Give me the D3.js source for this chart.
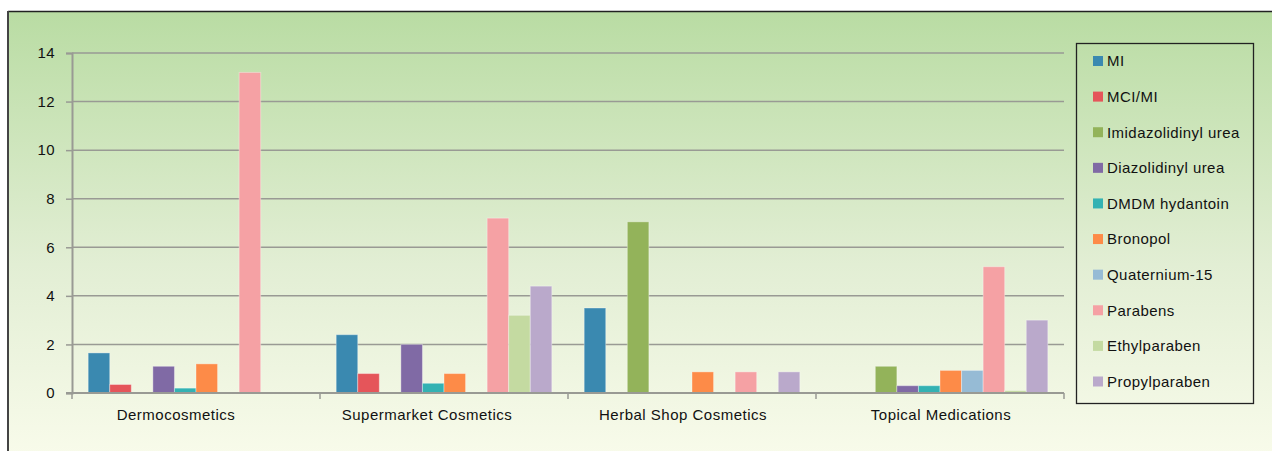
<!DOCTYPE html>
<html><head><meta charset="utf-8">
<script src="https://cdn.jsdelivr.net/npm/d3@7"></script>
<style>
html,body{margin:0;padding:0;background:#fff;}
svg{display:block;font-family:"Liberation Sans",Arial,sans-serif;}
</style></head>
<body><svg id="chart" width="1272" height="451"></svg>
<script>
const categories = ["Dermocosmetics","Supermarket Cosmetics","Herbal Shop Cosmetics","Topical Medications"];
const seriesNames = ["MI","MCI/MI","Imidazolidinyl urea","Diazolidinyl urea","DMDM hydantoin","Bronopol","Quaternium-15","Parabens","Ethylparaben","Propylparaben"];
const seriesColors = ["#3a89b0","#e5555a","#93b35a","#806aa5","#33b2b3","#fd8b48","#96bbd5","#f5a1a4","#c4daa1","#baa9cb"];
const MI = [1.65, 2.4, 3.5, 0];
const MCI_MI = [0.35, 0.8, 0, 0];
const Imidazolidinyl = [0, 0, 7.05, 1.1];
const Diazolidinyl = [1.1, 2.0, 0, 0.3];
const DMDM = [0.2, 0.4, 0, 0.3];
const Bronopol = [1.2, 0.8, 0.87, 0.93];
const Quaternium15 = [0, 0, 0, 0.93];
const Parabens = [13.2, 7.2, 0.87, 5.2];
const Ethylparaben = [0, 3.2, 0, 0.1];
const Propylparaben = [0, 4.4, 0.87, 3.0];
const yTicks = [0,2,4,6,8,10,12,14];

const seriesValues = [MI, MCI_MI, Imidazolidinyl, Diazolidinyl, DMDM, Bronopol, Quaternium15, Parabens, Ethylparaben, Propylparaben];

// layout: small horizontal shifts of category labels, as in the original figure
const labelShift = [-20, -17, -9, 1];

const svg = d3.select("#chart");
const defs = svg.append("defs");
const grad = defs.append("linearGradient").attr("id","bg").attr("x1",0).attr("y1",0).attr("x2",0).attr("y2",1);
grad.append("stop").attr("offset","0%").attr("stop-color","#b9dca3");
grad.append("stop").attr("offset","55%").attr("stop-color","#e2eed4");
grad.append("stop").attr("offset","100%").attr("stop-color","#fafcec");

svg.append("rect").attr("x",8).attr("y",11).attr("width",1272).attr("height",460).attr("fill","url(#bg)");
svg.append("line").attr("x1",8).attr("x2",1272).attr("y1",11.5).attr("y2",11.5).attr("stroke","#222").attr("stroke-width",1.3);
svg.append("line").attr("x1",8).attr("x2",8).attr("y1",11).attr("y2",451).attr("stroke","#444").attr("stroke-width",2);

const pLeft = 72, pRight = 1064, pTop = 53, pBottom = 393;
const x0 = d3.scaleBand().domain(categories).range([pLeft,pRight]).paddingInner(0).paddingOuter(0);
const x1 = d3.scaleBand().domain(seriesNames).range([0,x0.bandwidth()]).paddingInner(0).paddingOuter(0.75);
const y = d3.scaleLinear().domain([0,14]).range([pBottom,pTop]);

const FONT = "Liberation Sans, Arial, sans-serif";

// gridlines
svg.append("g").selectAll("line").data(yTicks.filter(d=>d>0)).join("line")
  .attr("x1",pLeft).attr("x2",pRight).attr("y1",d=>y(d)).attr("y2",d=>y(d))
  .attr("stroke","#999a94").attr("stroke-width",1.5);

// y axis
const yAxis = d3.axisLeft(y).tickValues(yTicks).tickSize(6).tickPadding(11).tickFormat(d3.format("d"));
const gy = svg.append("g").attr("transform",`translate(${pLeft},0)`).call(yAxis);
gy.select(".domain").attr("stroke","#999a94").attr("stroke-width",2);
gy.selectAll(".tick line").attr("stroke","#999a94").attr("stroke-width",1.5);
gy.selectAll(".tick text").attr("font-size",15).attr("letter-spacing","0.4px").attr("fill","#111").attr("font-family",FONT);

// bars
const groups = svg.append("g").selectAll("g").data(categories).join("g")
  .attr("transform",d=>`translate(${x0(d)},0)`);
groups.selectAll("rect").data((c,ci)=>seriesNames.map((s,si)=>({s,si,v:seriesValues[si][ci]})).filter(d=>d.v>0)).join("rect")
  .attr("x",d=>x1(d.s)).attr("width",x1.bandwidth())
  .attr("y",d=>y(d.v)).attr("height",d=>y(0)-y(d.v))
  .attr("fill",d=>seriesColors[d.si])
  .attr("stroke","rgba(255,255,255,0.35)").attr("stroke-width",1);

// x axis
const xAxis = d3.axisBottom(x0).tickSize(0).tickPadding(16);
const gx = svg.append("g").attr("transform",`translate(0,${pBottom})`).call(xAxis);
gx.select(".domain").remove();
gx.append("line").attr("x1",pLeft-6).attr("x2",pRight).attr("y1",0).attr("y2",0).attr("stroke","#999a94").attr("stroke-width",2);
gx.selectAll(".tick text").attr("font-size",15).attr("letter-spacing","0.5px").attr("fill","#111").attr("font-family",FONT)
  .attr("dx",(d,i)=>labelShift[i]);
const bounds = categories.map(c=>x0(c)).concat([pRight]);
gx.append("g").selectAll("line").data(bounds).join("line")
  .attr("x1",d=>d).attr("x2",d=>d).attr("y1",0).attr("y2",6)
  .attr("stroke","#999a94").attr("stroke-width",1.5);

// legend
const lg = svg.append("g");
lg.append("rect").attr("x",1076.5).attr("y",43.5).attr("width",177).attr("height",360)
  .attr("fill","none").attr("stroke","#222").attr("stroke-width",1.3);
const ly = d3.scalePoint().domain(seriesNames).range([61,381.5]);
const items = lg.selectAll("g.item").data(seriesNames).join("g").attr("class","item")
  .attr("transform",d=>`translate(1093,${ly(d)})`);
items.append("rect").attr("x",0).attr("y",-5).attr("width",10).attr("height",10)
  .attr("fill",(d,i)=>seriesColors[i]);
items.append("text").attr("x",14).attr("y",0).attr("dy","0.36em").attr("font-size",15)
  .attr("letter-spacing","0.45px").attr("fill","#111").attr("font-family",FONT).text(d=>d);
</script>
</body></html>
